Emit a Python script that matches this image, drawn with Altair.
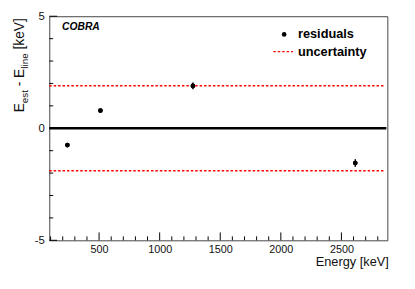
import altair as alt
import pandas as pd

# ---- data ----
energy = [238.6, 511.0, 1274.5, 2614.5]
residual = [-0.75, 0.79, 1.89, -1.55]
error = [0.05, 0.05, 0.15, 0.17]
uncertainty = [1.9, -1.9]
zero_line = [0.0]

x_major = [500, 1000, 1500, 2000, 2500]
x_minor = [100, 200, 300, 400, 600, 700, 800, 900, 1100, 1200, 1300, 1400,
           1600, 1700, 1800, 1900, 2100, 2200, 2300, 2400, 2600, 2700, 2800]
y_major = [-5, 0, 5]
y_minor = [-4, -3, -2, -1, 1, 2, 3, 4]

W, H = 344, 228
FONT = "Liberation Sans"

pts = pd.DataFrame({"energy": energy, "residual": residual, "err": error})
pts["lo"] = pts["residual"] - pts["err"]
pts["hi"] = pts["residual"] + pts["err"]

xscale = alt.Scale(domain=[89, 2879], nice=False, zero=False)
yscale = alt.Scale(domain=[-5, 5], nice=False, zero=False)

xaxis = alt.Axis(values=x_major, ticks=False, tickSize=0, domain=False, grid=False,
                 labelFontSize=11, labelFont=FONT, labelColor="#111", labelPadding=3,
                 labelFlush=False, labelExpr="'' + datum.value",
                 title="Energy [keV]", titleFont=FONT, titleFontSize=13,
                 titleFontWeight="normal", titleColor="#111",
                 titleAnchor="end", titleAlign="right", titleX=W + 1, titleY=26,
                 titleBaseline="alphabetic")
yaxis = alt.Axis(values=y_major, ticks=False, tickSize=0, domain=False, grid=False,
                 labelFontSize=11.5, labelFont=FONT, labelColor="#111", labelPadding=5,
                 labelFlush=False, labelExpr="'' + datum.value", title=None)


def X(field):
    return alt.X(field, type="quantitative", scale=xscale, axis=xaxis)


def Y(field):
    return alt.Y(field, type="quantitative", scale=yscale, axis=yaxis)


points = alt.Chart(pts).mark_point(filled=True, shape="circle", size=22, color="#000",
                                   opacity=1).encode(x=X("energy"), y=Y("residual"))
errbars = alt.Chart(pts).mark_rule(color="#000", strokeWidth=1.5).encode(
    x=X("energy"), y=Y("lo"), y2="hi")

unc = alt.Chart(pd.DataFrame({"u": uncertainty})).mark_rule(
    color="#ff0000", strokeWidth=1.5, strokeDash=[2.5, 2]).encode(
    y=Y("u"), x=alt.value(0), x2=alt.value(W - 2))

zl = alt.Chart(pd.DataFrame({"z": zero_line})).mark_rule(
    color="#000", strokeWidth=2.5).encode(y=Y("z"), x=alt.value(0), x2=alt.value(W - 1))

xmaj = alt.Chart(pd.DataFrame({"t": x_major})).mark_rule(color="#000", strokeWidth=1).encode(
    x=X("t"), y=alt.value(H), y2=alt.value(H - 8))
xmin = alt.Chart(pd.DataFrame({"t": x_minor})).mark_rule(color="#000", strokeWidth=1).encode(
    x=X("t"), y=alt.value(H), y2=alt.value(H - 4))
ymaj = alt.Chart(pd.DataFrame({"t": y_major})).mark_rule(color="#000", strokeWidth=1).encode(
    y=Y("t"), x=alt.value(0), x2=alt.value(8))
ymin = alt.Chart(pd.DataFrame({"t": y_minor})).mark_rule(color="#000", strokeWidth=1).encode(
    y=Y("t"), x=alt.value(0), x2=alt.value(4))

# ---- texts ----
def txt(s, x, y, size, weight="normal", style="normal", align="left", angle=0,
        color="#000"):
    kw = dict(text=s, fontSize=size, font=FONT, fontWeight=weight, fontStyle=style,
              align=align, baseline="alphabetic", color=color)
    if angle:
        kw["angle"] = angle
    return alt.Chart(pd.DataFrame({"a": [0]})).mark_text(**kw).encode(
        x=alt.value(x), y=alt.value(y))

cobra = txt("COBRA", 13, 14, 10.5, weight="bold", style="italic")

# legend
leg_dot = alt.Chart(pd.DataFrame({"a": [0]})).mark_point(
    filled=True, shape="circle", size=22, color="#000", opacity=1).encode(
    x=alt.value(239), y=alt.value(18.5))
leg_line = alt.Chart(pd.DataFrame({"a": [0]})).mark_rule(
    color="#ff0000", strokeWidth=1.5, strokeDash=[2.5, 2]).encode(
    x=alt.value(228), x2=alt.value(248), y=alt.value(36))
leg_t1 = txt("residuals", 253, 22, 13, weight="bold")
leg_t2 = txt("uncertainty", 253, 40, 13, weight="bold")

# y-axis title  E_est - E_line [keV]  (rotated, built from pieces)
xb = -26   # main baseline
xs = -22   # subscript baseline
ytitle = [
    txt("[keV]", xb, 2, 14, align="right", angle=270, color="#111"),
    txt("line", xs, 37.8, 10, align="right", angle=270, color="#111"),
    txt("E", xb, 53.4, 14, align="right", angle=270, color="#111"),
    txt("-", xb, 66.6, 14, align="right", angle=270, color="#111"),
    txt("est", xs, 75.1, 10, align="right", angle=270, color="#111"),
    txt("E", xb, 88.4, 14, align="right", angle=270, color="#111"),
]

chart = alt.layer(
    points, unc, zl, errbars, points, xmin, xmaj, ymin, ymaj, cobra,
    leg_dot, leg_line, leg_t1, leg_t2, *ytitle
).properties(
    width=W, height=H,
    autosize=alt.AutoSizeParams(type="none"),
    padding={"left": 42, "top": 6, "right": 20, "bottom": 38},
    background="#ffffff",
).configure_view(stroke="#444", strokeWidth=1)

chart.save("out.html", embed_options={"renderer": "svg", "actions": False})
